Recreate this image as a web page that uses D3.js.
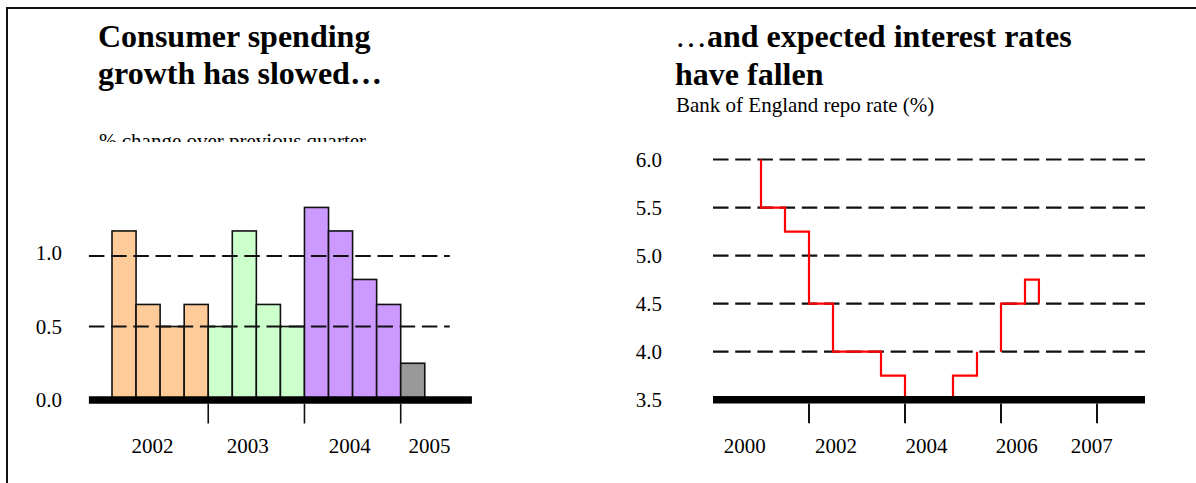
<!DOCTYPE html>
<html><head><meta charset="utf-8">
<script src="https://cdn.jsdelivr.net/npm/d3@7"></script>
<style>
html,body{margin:0;padding:0;background:#fff;}
svg{display:block;font-family:"Liberation Serif","Times New Roman",serif;}
</style>
</head><body>
<svg id="c" width="1196" height="483"></svg>
<script>
// ---------- Left panel data: consumer spending growth (% q/q) ----------
const spendYears   = [2002, 2002, 2002, 2002, 2003, 2003, 2003, 2003, 2004, 2004, 2004, 2004, 2005];
const spendQuarter = [1, 2, 3, 4, 1, 2, 3, 4, 1, 2, 3, 4, 1];
const spendGrowth  = [1.15, 0.65, 0.5, 0.65, 0.5, 1.15, 0.65, 0.5, 1.31, 1.15, 0.82, 0.65, 0.25];
const spendYTicks  = [0.0, 0.5, 1.0];
const spendGrid    = [0.5, 1.0];
const spendXTicks  = [2003, 2004, 2005];
const spendXLabels = ["2002", "2003", "2004", "2005"];
const spendXLabelAt = [2002.42, 2003.41, 2004.47, 2005.3];

// ---------- Right panel data: Bank of England repo rate (%) ----------
const rateDates  = [2001.0, 2001.0, 2001.5, 2002.0, 2002.5, 2003.5, 2004.0, 2005.0, 2005.5, null, 2006.0, 2006.0, 2006.5, 2006.79];
const rateValues = [6.0, 5.5, 5.25, 4.5, 4.0, 3.75, 3.5, 3.75, 4.0, null, 4.0, 4.5, 4.75, 4.5];
const rateYTicks = [3.5, 4.0, 4.5, 5.0, 5.5, 6.0];
const rateGrid   = [4.0, 4.5, 5.0, 5.5, 6.0];
const rateXTicks = [2002, 2004, 2006, 2008];
const rateXLabels = ["2000", "2002", "2004", "2006", "2007"];
const rateXLabelAt = [2000.66, 2002.56, 2004.45, 2006.33, 2007.89];

const yearFill = {2002: "#FFCC99", 2003: "#CCFFCC", 2004: "#CC99FF", 2005: "#999999"};

const svg = d3.select("#c");

// outer frame
svg.append("path").attr("d", "M7,483V8H1196").attr("fill", "none")
  .attr("stroke", "#111").attr("stroke-width", 2);

// ================= LEFT PANEL =================
const xL = d3.scaleLinear().domain([2002, 2005]).range([112, 400.7]);
const yL = d3.scaleLinear().domain([0, 1]).range([400, 253]);
const L = svg.append("g");

// titles
L.append("text").attr("x", 98).attr("y", 47).attr("font-size", 32).attr("font-weight", "bold")
  .text("Consumer spending");
L.append("text").attr("x", 98).attr("y", 84).attr("font-size", 32).attr("font-weight", "bold")
  .text("growth has slowed\u2026");
svg.append("clipPath").attr("id", "subclip").append("rect")
  .attr("x", 0).attr("y", 0).attr("width", 600).attr("height", 142);
L.append("text").attr("x", 99).attr("y", 147.5).attr("font-size", 21)
  .attr("clip-path", "url(#subclip)").text("% change over previous quarter");

// bars
const spend = spendGrowth.map((v, i) => ({year: spendYears[i], q: spendQuarter[i], v}));
L.selectAll("rect.bar").data(spend).join("rect").attr("class", "bar")
  .attr("x", d => xL(d.year + (d.q - 1) / 4))
  .attr("width", d => xL(d.year + d.q / 4) - xL(d.year + (d.q - 1) / 4))
  .attr("y", d => yL(d.v))
  .attr("height", d => yL(0) - yL(d.v))
  .attr("fill", d => yearFill[d.year])
  .attr("stroke", "#111").attr("stroke-width", 1.6);

// dashed grid
L.selectAll("line.grid").data(spendGrid).join("line").attr("class", "grid")
  .attr("x1", xL(2001.76)).attr("x2", xL(2005.51))
  .attr("y1", d => yL(d) + (d === 1 ? 3 : 0)).attr("y2", d => yL(d) + (d === 1 ? 3 : 0))
  .attr("stroke", "#111").attr("stroke-width", 1.8).attr("stroke-dasharray", "15.5,6.7");

// thick baseline
L.append("line").attr("x1", xL(2001.76)).attr("x2", xL(2005.74))
  .attr("y1", yL(0)).attr("y2", yL(0)).attr("stroke", "#000").attr("stroke-width", 7.5);

// x ticks
L.selectAll("line.tick").data(spendXTicks).join("line").attr("class", "tick")
  .attr("x1", d => xL(d)).attr("x2", d => xL(d))
  .attr("y1", yL(0) + 3.7).attr("y2", yL(0) + 23.5)
  .attr("stroke", "#111").attr("stroke-width", 1.6);

// x labels
L.selectAll("text.xl").data(spendXLabels).join("text").attr("class", "xl")
  .attr("x", (d, i) => xL(spendXLabelAt[i])).attr("y", 452.5)
  .attr("text-anchor", "middle").attr("font-size", 21).text(d => d);

// y labels
L.selectAll("text.yl").data(spendYTicks).join("text").attr("class", "yl")
  .attr("x", 62).attr("y", d => yL(d)).attr("dy", "0.35em")
  .attr("text-anchor", "end").attr("font-size", 21).text(d => d3.format(".1f")(d));

// ================= RIGHT PANEL =================
const xR = d3.scaleLinear().domain([2000, 2008]).range([713, 1097]);
const yR = d3.scaleLinear().domain([3.5, 6.0]).range([399.7, 159.5]);
const R = svg.append("g");

const t1 = R.append("text").attr("x", 675).attr("y", 47).attr("font-size", 32);
t1.append("tspan").attr("font-weight", "normal").text("\u2026");
t1.append("tspan").attr("font-weight", "bold").text("and expected interest rates");
R.append("text").attr("x", 675).attr("y", 85).attr("font-size", 32).attr("font-weight", "bold")
  .text("have fallen");
R.append("text").attr("x", 676).attr("y", 111.5).attr("font-size", 21)
  .text("Bank of England repo rate (%)");

// dashed grid
R.selectAll("line.grid").data(rateGrid).join("line").attr("class", "grid")
  .attr("x1", xR(2000)).attr("x2", xR(2009))
  .attr("y1", d => yR(d)).attr("y2", d => yR(d))
  .attr("stroke", "#111").attr("stroke-width", 2.2).attr("stroke-dasharray", "15.5,6.7");

// step line
const rates = rateValues.map((v, i) => ({t: rateDates[i], v}));
const line = d3.line().defined(d => d.v !== null)
  .x(d => xR(d.t)).y(d => yR(d.v)).curve(d3.curveStepAfter);
R.append("path").datum(rates).attr("d", line)
  .attr("fill", "none").attr("stroke", "#FF0000").attr("stroke-width", 2.2);

// thick baseline
R.append("line").attr("x1", xR(2000)).attr("x2", xR(2009))
  .attr("y1", yR(3.5)).attr("y2", yR(3.5)).attr("stroke", "#000").attr("stroke-width", 7.5);

// x ticks
R.selectAll("line.tick").data(rateXTicks).join("line").attr("class", "tick")
  .attr("x1", d => xR(d)).attr("x2", d => xR(d))
  .attr("y1", yR(3.5) + 3.7).attr("y2", yR(3.5) + 23.5)
  .attr("stroke", "#111").attr("stroke-width", 2);

// x labels
R.selectAll("text.xl").data(rateXLabels).join("text").attr("class", "xl")
  .attr("x", (d, i) => xR(rateXLabelAt[i])).attr("y", 452.5)
  .attr("text-anchor", "middle").attr("font-size", 21).text(d => d);

// y labels
R.selectAll("text.yl").data(rateYTicks).join("text").attr("class", "yl")
  .attr("x", 662).attr("y", d => yR(d)).attr("dy", "0.35em")
  .attr("text-anchor", "end").attr("font-size", 21).text(d => d3.format(".1f")(d));
</script>
</body></html>
